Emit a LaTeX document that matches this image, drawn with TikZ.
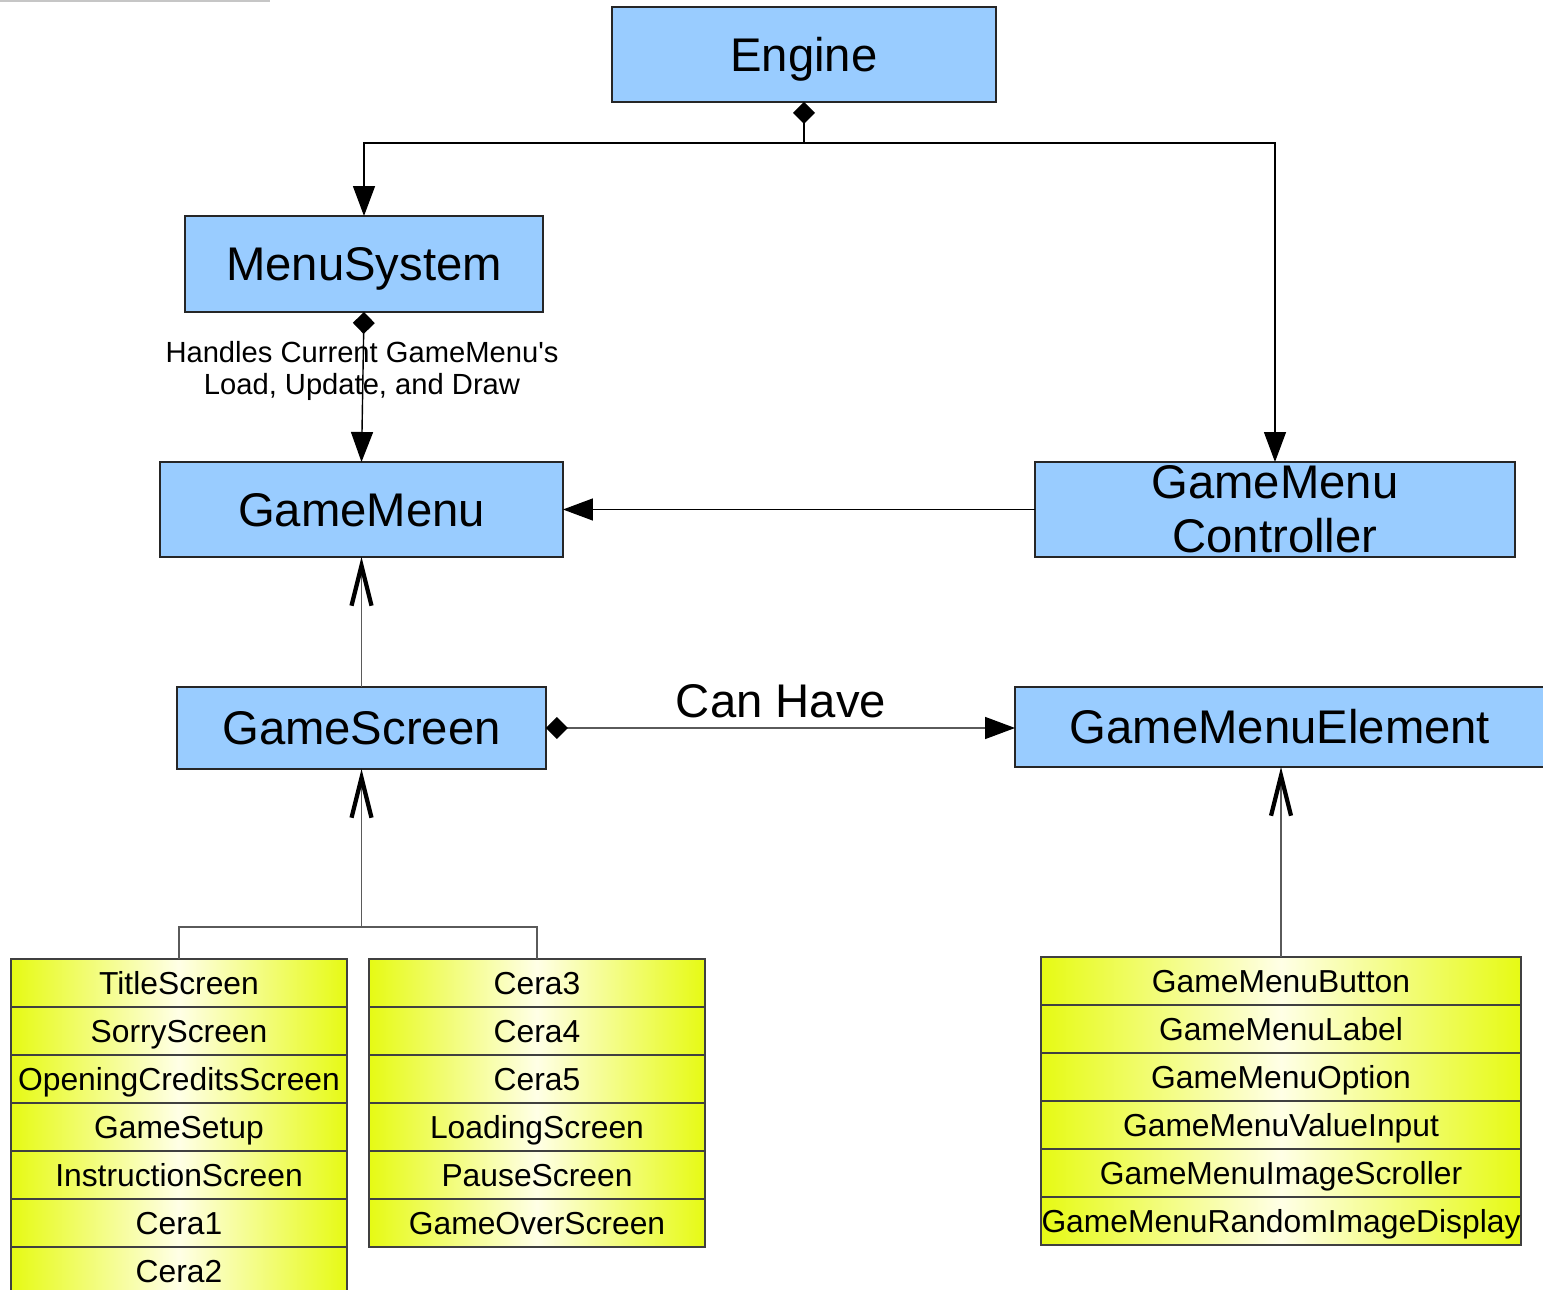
\documentclass[tikz,border=0pt]{standalone}
\usepackage{fontspec}
\setmainfont{Liberation Sans}[Ligatures=TeXOff]
\usetikzlibrary{arrows.meta}
\definecolor{boxblue}{RGB}{153,204,255}
\definecolor{yel}{RGB}{230,250,20}
\definecolor{yelc}{RGB}{255,255,230}
\definecolor{lgray}{RGB}{90,90,90}
\tikzset{
  bigbox/.style={draw=black!85, line width=0.8pt, fill=boxblue, inner sep=0pt, outer sep=0pt,
    font=\fontsize{26.9}{30.6}\selectfont, align=center},
  oneline/.style={bigbox, text height=0.68cm, text depth=0pt},
  cell/.style={draw=black!75, line width=0.7pt, left color=yel, right color=yel, middle color=yelc,
    minimum height=0.96cm, inner sep=0pt, outer sep=0pt, font=\fontsize{18.1}{20}\selectfont,
    text height=0.46cm, text depth=0pt},
  lcell/.style={cell, minimum width=6.72cm},
  rcell/.style={cell, minimum width=9.6cm},
  conn/.style={line width=0.8pt, draw=black},
  gconn/.style={line width=0.8pt, draw=lgray},
  tri/.tip={Triangle[length=0.6cm,width=0.44cm,color=black]},
  dia/.tip={Diamond[length=0.44cm,width=0.44cm,color=black]},
  vee/.tip={Straight Barb[length=0.8cm,width=0.4cm,line width=0.085cm,color=black]},
}
\begin{document}
\begin{tikzpicture}[x=0.02cm,y=-0.02cm]
\useasboundingbox (0,0) rectangle (1543,1290);
\fill[white] (0,0) rectangle (1543,1290);
\draw[gray!45, line width=1.5pt] (0,0.8) -- (270,0.8);

% main classes
\node[oneline, minimum width=7.68cm, minimum height=1.9cm] (engine) at (804,54.5) {Engine};
\node[oneline, minimum width=7.16cm, minimum height=1.92cm] (menusys) at (364,264) {MenuSystem};
\node[oneline, minimum width=8.06cm, minimum height=1.9cm] (gamemenu) at (361.5,509.5) {GameMenu};
\node[bigbox, minimum width=9.6cm, minimum height=1.9cm] (ctrl) at (1275,509.5) {GameMenu\\Controller};
\node[oneline, minimum width=7.38cm, minimum height=1.64cm] (gscreen) at (361.5,728) {GameScreen};
\node[oneline, minimum width=10.6cm, minimum height=1.6cm] (gme) at (1280,727) {GameMenuElement};

% left table
\node[lcell] (t1) at (179,983) {TitleScreen};
\node[lcell] (t2) at (179,1031) {SorryScreen};
\node[lcell] (t3) at (179,1079) {OpeningCreditsScreen};
\node[lcell] (t4) at (179,1127) {GameSetup};
\node[lcell] (t5) at (179,1175) {InstructionScreen};
\node[lcell] (t6) at (179,1223) {Cera1};
\node[lcell] (t7) at (179,1271) {Cera2};
% middle table
\node[lcell] (m1) at (537,983) {Cera3};
\node[lcell] (m2) at (537,1031) {Cera4};
\node[lcell] (m3) at (537,1079) {Cera5};
\node[lcell] (m4) at (537,1127) {LoadingScreen};
\node[lcell] (m5) at (537,1175) {PauseScreen};
\node[lcell] (m6) at (537,1223) {GameOverScreen};
% right table
\node[rcell] (r1) at (1281,981) {GameMenuButton};
\node[rcell] (r2) at (1281,1029) {GameMenuLabel};
\node[rcell] (r3) at (1281,1077) {GameMenuOption};
\node[rcell] (r4) at (1281,1125) {GameMenuValueInput};
\node[rcell] (r5) at (1281,1173) {GameMenuImageScroller};
\node[rcell] (r6) at (1281,1221) {GameMenuRandomImageDisplay};

% Engine connectors
\coordinate (ej) at (804,143);
\draw[conn, {dia}-] (engine.south) -- (ej);
\draw[conn, -{tri}] (ej) -| (menusys.north);
\draw[conn, -{tri}] (ej) -| (ctrl.north);

% MenuSystem -> GameMenu
\draw[conn, {dia}-{tri}] (menusys.south) -- (gamemenu.north);
\node[font=\fontsize{16.6}{18.1}\selectfont, align=center, inner sep=0pt] (lbl) at (362,371)
  {Handles Current GameMenu's\\Load, Update, and Draw};

% Controller -> GameMenu
\draw[conn, -{tri}] (ctrl.west) -- (gamemenu.east);

% GameScreen -> GameMenu (inheritance)
\draw[gconn, -{vee}] (gscreen.north) -- (gamemenu.south);

% GameScreen -> GameMenuElement
\draw[gconn, {dia}-{tri}] (gscreen.east) -- (gscreen.east -| gme.west);
\node[font=\fontsize{26.9}{30.6}\selectfont, anchor=base, inner sep=0pt] (canhave) at (781,718) {Can Have};

% tables -> GameScreen
\coordinate (tj) at (361.5,927);
\draw[gconn] (t1.north) |- (tj) -| (m1.north);
\draw[gconn, -{vee}] (tj) -- (gscreen.south);

% right table -> GameMenuElement
\draw[gconn, -{vee}] (r1.north) -- (r1.north |- gme.south);
\end{tikzpicture}
\end{document}
